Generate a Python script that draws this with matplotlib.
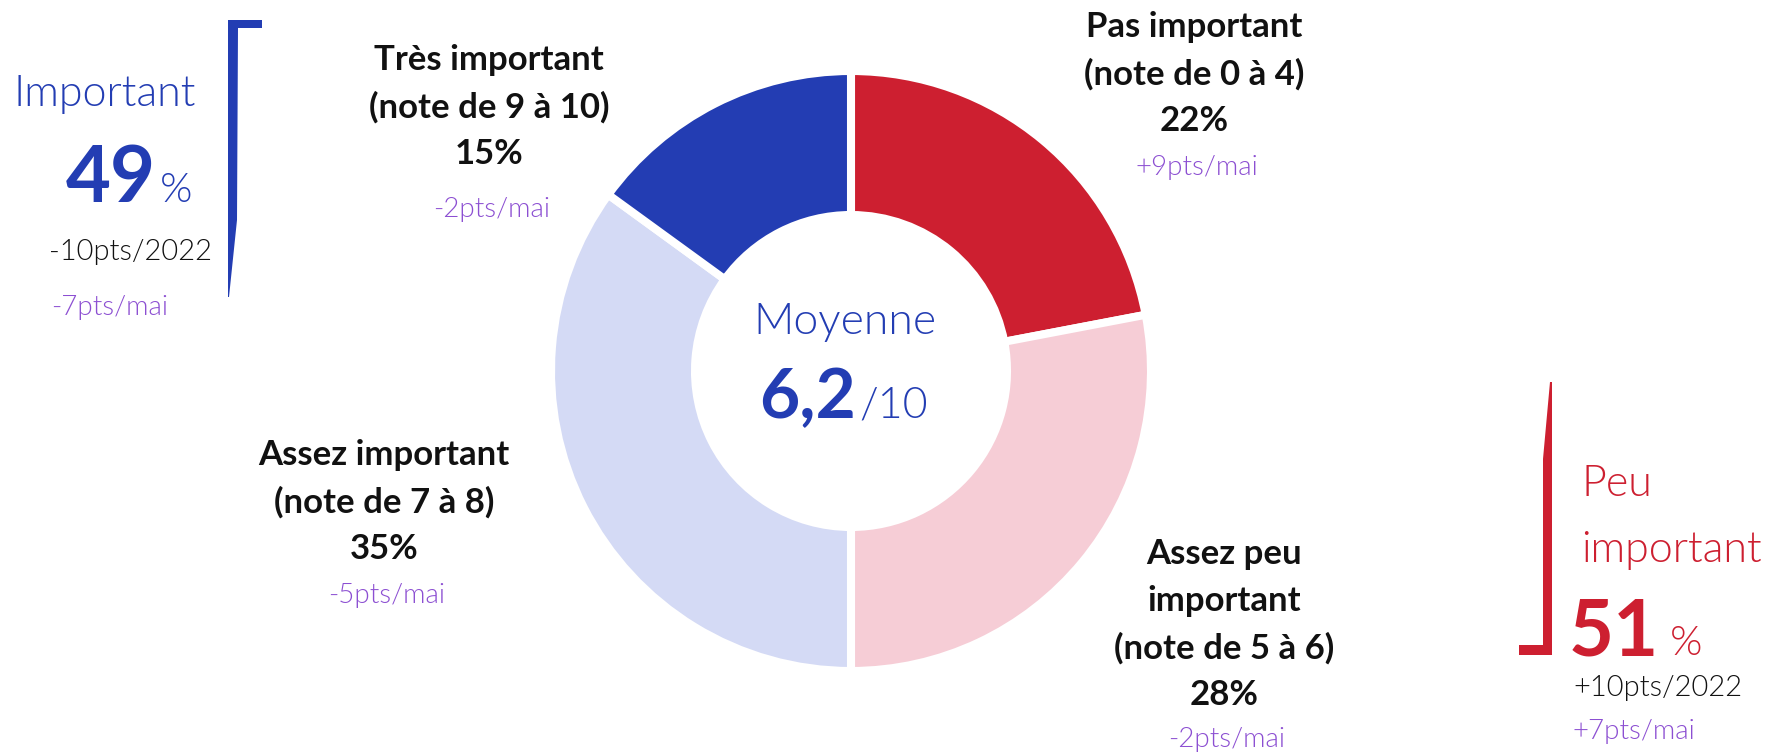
import numpy as np
import matplotlib
matplotlib.use('Agg')
import matplotlib.pyplot as plt
from matplotlib.patches import Polygon

plt.rcParams['font.family'] = ['Lato', 'DejaVu Sans']

W, H = 1773, 752
LIGHT = 300

# score groups, clockwise from the top
labels = ['Pas important\n(note de 0 à 4)',
          'Assez peu\nimportant\n(note de 5 à 6)',
          'Assez important\n(note de 7 à 8)',
          'Très important\n(note de 9 à 10)']
shares = [22, 28, 35, 15]
deltas_mai = ['+9pts/mai', '-2pts/mai', '-5pts/mai', '-2pts/mai']
colors = ['#CD1F30', '#F6CDD6', '#D4DAF5', '#233DB3']

mean_score = '6,2'
important_total = 49
important_2022 = '-10pts/2022'
important_mai = '-7pts/mai'
peu_total = 51
peu_2022 = '+10pts/2022'
peu_mai = '+7pts/mai'

BLUE = '#233DB3'
RED = '#CD1F30'
PURPLE = '#8C4FD2'
BLACK = '#111111'

fig = plt.figure(figsize=(W / 100, H / 100), dpi=100)


def fx(x):
    return x / W


def fy(y):
    return 1 - y / H


def put(x, y, s, **kw):
    kw.setdefault('ha', 'center')
    kw.setdefault('va', 'center')
    fig.text(fx(x), fy(y), s, **kw)


# donut centred at (851, 371) px, outer radius ~300 px incl. white edge
cx, cy, r = 851, 371, 300
ax = fig.add_axes([fx(cx - r), fy(cy + r), fx(2 * r), fx(0) + (2 * r) / H])
ax.pie(shares, colors=colors, startangle=90, counterclock=False,
       radius=1, wedgeprops=dict(width=0.48, edgecolor='white', linewidth=5.8))
ax.set_aspect('auto')
ax.set_xlim(-1, 1)
ax.set_ylim(-1, 1)
ax.axis('off')

# slice labels
label_pos = [(1194, 27), (1224, 554), (384, 455), (489, 60)]
purple_gap = [47, 44, 47, 55]
for (x, y), lab, share, d, g in zip(label_pos, labels, shares, deltas_mai,
                                     purple_gap):
    lines = lab.split('\n') + [f'{share}%']
    for i, line in enumerate(lines):
        put(x, y + i * 47, line, fontsize=25, fontweight='bold', color=BLACK)
    put(x + 3, y + (len(lines) - 1) * 47 + g, d, fontsize=20,
        fontweight=LIGHT, color=PURPLE)

# centre
put(845, 322, 'Moyenne', fontsize=32, fontweight=LIGHT, color=BLUE)
put(856, 418, mean_score, fontsize=50, fontweight='bold', color=BLUE,
    ha='right', va='baseline')
put(859, 418, '/10', fontsize=31, fontweight=LIGHT, color=BLUE,
    ha='left', va='baseline')

# left summary: Important
put(105, 94, 'Important', fontsize=31, fontweight=LIGHT, color=BLUE)
put(156, 202, f'{important_total}', fontsize=56, fontweight='bold',
    color=BLUE, ha='right', va='baseline')
put(160, 202, '%', fontsize=30, fontweight=LIGHT, color=BLUE,
    ha='left', va='baseline')
put(212, 252, important_2022, fontsize=21, fontweight=LIGHT, color=BLACK,
    ha='right')
put(51, 307, important_mai, fontsize=20, fontweight=LIGHT, color=PURPLE,
    ha='left')

# left bracket
fig.patches.append(Polygon(
    [(fx(228), fy(20)), (fx(262), fy(20)), (fx(262), fy(28)), (fx(238), fy(28)),
     (fx(237), fy(220)), (fx(229), fy(297)), (fx(228), fy(297))],
    closed=True, transform=fig.transFigure, facecolor=BLUE, edgecolor='none'))

# right summary: Peu important
put(1581, 496, 'Peu', fontsize=31, fontweight=LIGHT, color=RED,
    ha='left', va='baseline')
put(1581, 562, 'important', fontsize=31, fontweight=LIGHT, color=RED,
    ha='left', va='baseline')
put(1659, 655, f'{peu_total}', fontsize=56, fontweight='bold', color=RED,
    ha='right', va='baseline')
put(1670, 655, '%', fontsize=30, fontweight=LIGHT, color=RED,
    ha='left', va='baseline')
put(1573, 688, peu_2022, fontsize=21, fontweight=LIGHT, color=BLACK,
    ha='left')
put(1573, 732, peu_mai, fontsize=20, fontweight=LIGHT, color=PURPLE,
    ha='left')

# right bracket
fig.patches.append(Polygon(
    [(fx(1552), fy(382)), (fx(1552), fy(655)), (fx(1519), fy(655)),
     (fx(1519), fy(645)), (fx(1543), fy(645)), (fx(1543), fy(459)),
     (fx(1550), fy(382))],
    closed=True, transform=fig.transFigure, facecolor=RED, edgecolor='none'))

fig.savefig('out.png', dpi=100, facecolor='white')
